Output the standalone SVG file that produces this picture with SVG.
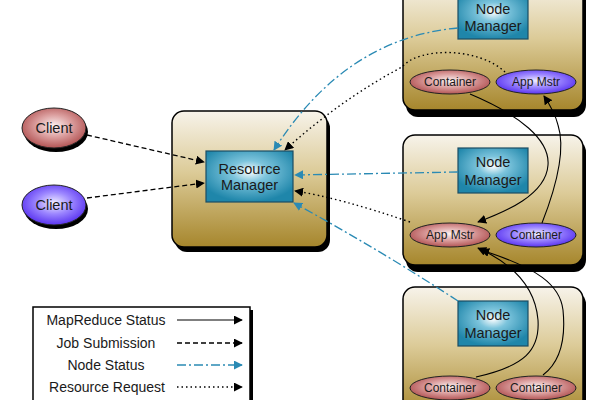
<svg xmlns="http://www.w3.org/2000/svg" width="600" height="400" viewBox="0 0 600 400">
<defs>
<linearGradient id="boxG" x1="0" y1="0" x2="0" y2="1">
<stop offset="0" stop-color="#f7f3ea"/><stop offset="0.45" stop-color="#dccb98"/><stop offset="1" stop-color="#a6862c"/>
</linearGradient>
<radialGradient id="nmG" cx="0.5" cy="0.4" r="0.6">
<stop offset="0" stop-color="#ffffff"/><stop offset="0.35" stop-color="#7cc4dc"/><stop offset="1" stop-color="#1f86aa"/>
</radialGradient>
<radialGradient id="redG" cx="0.5" cy="0.45" r="0.55">
<stop offset="0" stop-color="#fbf1f1"/><stop offset="0.5" stop-color="#dca0a0"/><stop offset="1" stop-color="#b25454"/>
</radialGradient>
<radialGradient id="blueG" cx="0.5" cy="0.45" r="0.55">
<stop offset="0" stop-color="#f0eeff"/><stop offset="0.5" stop-color="#9c86ff"/><stop offset="1" stop-color="#5a34f0"/>
</radialGradient>
<marker id="ab" viewBox="0 0 10 10" refX="9" refY="5" markerWidth="9" markerHeight="9" markerUnits="userSpaceOnUse" orient="auto">
<path d="M0,0 L10,5 L0,10 z" fill="#000"/>
</marker>
<marker id="abl" viewBox="0 0 10 10" refX="9" refY="5" markerWidth="9" markerHeight="9" markerUnits="userSpaceOnUse" orient="auto">
<path d="M0,0 L10,5 L0,10 z" fill="#2a8ab4"/>
</marker>
</defs>
<style>
.box{fill:url(#boxG);stroke:#000;stroke-width:1.5}
.sh{fill:#000}
.nm{fill:url(#nmG);stroke:#1b4d63;stroke-width:1.2}
.red{fill:url(#redG);stroke:#222;stroke-width:1}
.blue{fill:url(#blueG);stroke:#222;stroke-width:1}
text{font-family:"Liberation Sans",Arial,sans-serif;fill:#1a1a1a;text-anchor:middle}
.t14{font-size:14.5px}
.t12{font-size:12px}
.tl{font-size:14px}
.mr{fill:none;stroke:#000;stroke-width:1.1;marker-end:url(#ab)}
.js{fill:none;stroke:#000;stroke-width:1.3;stroke-dasharray:5,3;marker-end:url(#ab)}
.ns{fill:none;stroke:#2a8ab4;stroke-width:1.3;stroke-dasharray:9,3,2,3;marker-end:url(#abl)}
.rr{fill:none;stroke:#000;stroke-width:1.4;stroke-dasharray:1.5,3;marker-end:url(#ab)}
</style>

<g id="client1">
<ellipse class="sh" cx="56" cy="132" rx="32" ry="20"/>
<ellipse class="red" cx="54" cy="128" rx="32" ry="20"/>
<text class="t14" x="54" y="133">Client</text>
</g>
<g id="client2">
<ellipse class="sh" cx="56" cy="209" rx="32" ry="20"/>
<ellipse class="blue" cx="54" cy="205" rx="32" ry="20"/>
<text class="t14" x="54" y="210">Client</text>
</g>

<g id="resource-manager">
<rect class="sh" x="175" y="116" width="155" height="136" rx="12"/>
<rect class="box" x="172" y="111" width="155" height="136" rx="12"/>
<rect class="nm" x="206" y="151" width="87" height="51"/>
<text class="t14" x="249.5" y="174">Resource</text>
<text class="t14" x="249.5" y="190">Manager</text>
</g>

<g id="node1">
<rect class="sh" x="406" y="-15" width="180" height="132" rx="12"/>
<rect class="box" x="403" y="-20" width="180" height="130" rx="12"/>
<rect class="nm" x="458" y="-6" width="70" height="45"/>
<text class="t14" x="493" y="14">Node</text>
<text class="t14" x="493" y="31">Manager</text>
<ellipse class="red" cx="450" cy="82" rx="40" ry="12"/>
<text class="t12" x="450" y="86">Container</text>
<ellipse class="blue" cx="536" cy="82" rx="40" ry="12"/>
<text class="t12" x="536" y="86">App Mstr</text>
</g>

<g id="node2">
<rect class="sh" x="406" y="140" width="180" height="132" rx="12"/>
<rect class="box" x="403" y="135" width="180" height="130" rx="12"/>
<rect class="nm" x="458" y="148" width="70" height="45"/>
<text class="t14" x="493" y="167">Node</text>
<text class="t14" x="493" y="185">Manager</text>
<ellipse class="red" cx="450" cy="235" rx="40" ry="12"/>
<text class="t12" x="450" y="239">App Mstr</text>
<ellipse class="blue" cx="536" cy="235" rx="40" ry="12"/>
<text class="t12" x="536" y="239">Container</text>
</g>

<g id="node3">
<rect class="sh" x="406" y="292" width="180" height="132" rx="12"/>
<rect class="box" x="403" y="287" width="180" height="130" rx="12"/>
<rect class="nm" x="458" y="301" width="70" height="45"/>
<text class="t14" x="493" y="320">Node</text>
<text class="t14" x="493" y="338">Manager</text>
<ellipse class="red" cx="450" cy="388" rx="40" ry="12"/>
<text class="t12" x="450" y="392">Container</text>
<ellipse class="red" cx="536" cy="388" rx="40" ry="12"/>
<text class="t12" x="536" y="392">Container</text>
</g>

<g id="connectors">
<path class="js" d="M87,135 L204,162"/>
<path class="js" d="M87,198 L204,183"/>
<path class="ns" d="M458,28 Q345,38 274,150"/>
<path class="rr" d="M505,72 C480,48 420,46 402,67 Q340,100 285,150"/>
<path class="ns" d="M458,172 L295,175"/>
<path class="rr" d="M410,222 Q340,198 295,191"/>
<path class="ns" d="M458,301 Q380,250 294,203"/>
<path class="mr" d="M470,94 C520,115 550,140 548,165 C546,195 505,212 478,222"/>
<path class="mr" d="M542,223 C555,190 566,150 558,125 C555,113 550,105 544,96"/>
<path class="mr" d="M476,377 C525,366 540,350 538,320 C536,295 522,268 478,248"/>
<path class="mr" d="M543,375 C560,362 566,340 563,310 C560,285 538,268 481,250"/>
</g>

<g id="legend">
<rect class="sh" x="36" y="310" width="217" height="100"/>
<rect x="33" y="307" width="217" height="100" fill="#fff" stroke="#000" stroke-width="1.5"/>
<text class="tl" x="106" y="325">MapReduce Status</text>
<text class="tl" x="106" y="348">Job Submission</text>
<text class="tl" x="106" y="370">Node Status</text>
<text class="tl" x="107" y="392">Resource Request</text>
<path class="mr" d="M177,320 L242,320"/>
<path class="js" d="M177,343 L242,343"/>
<path class="ns" d="M177,365 L242,365"/>
<path class="rr" d="M177,387 L242,387"/>
</g>
</svg>
